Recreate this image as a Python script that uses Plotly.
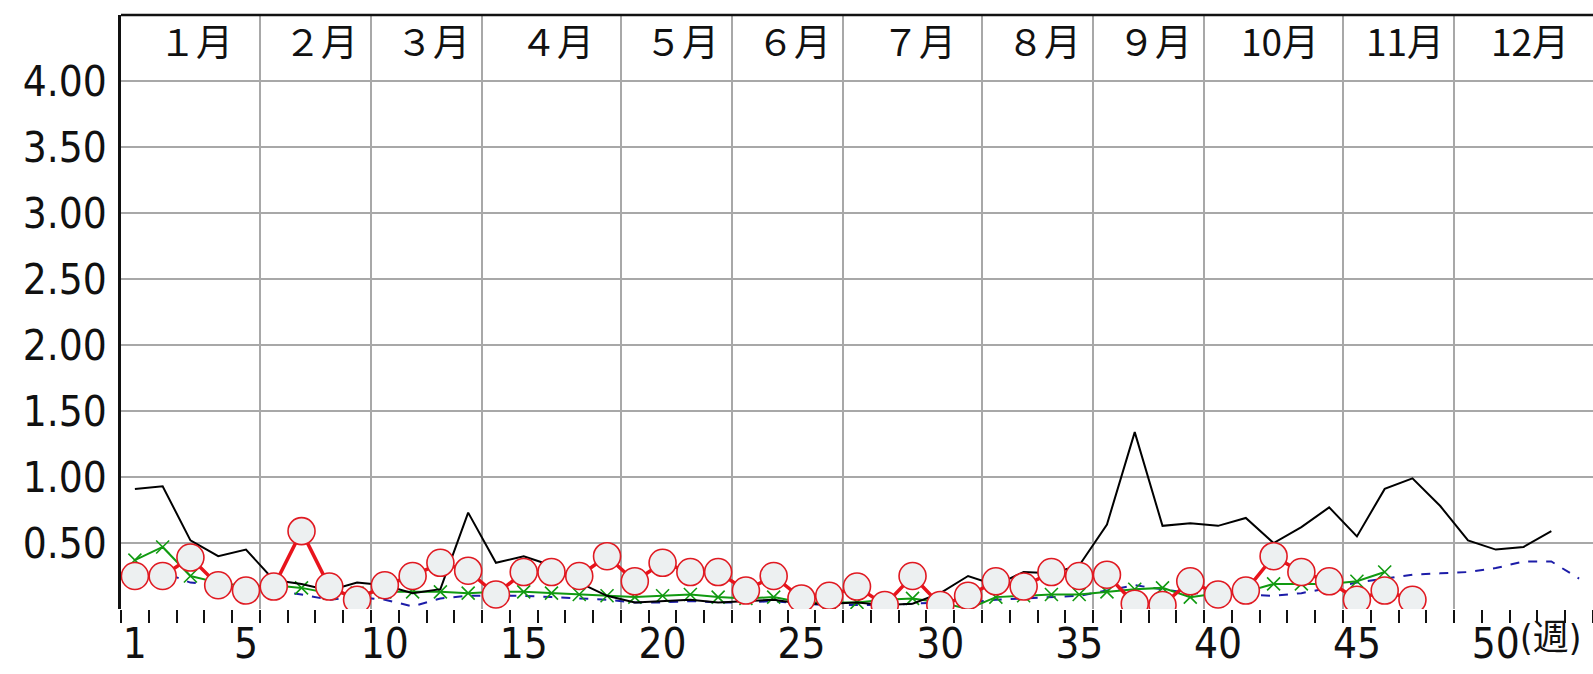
import plotly.graph_objects as go

# ---------------- data ----------------
weeks = list(range(1, 54))

months = ["１月", "２月", "３月", "４月", "５月", "６月", "７月", "８月", "９月", "10月", "11月", "12月"]
weeks_per_month = [5, 4, 4, 5, 4, 4, 5, 4, 4, 5, 4, 5]

x_tick_vals = [1, 5, 10, 15, 20, 25, 30, 35, 40, 45, 50]
x_tick_text = ["1", "5", "10", "15", "20", "25", "30", "35", "40", "45", "50"]
week_unit = "(週)"

y_tick_vals = [0.5, 1.0, 1.5, 2.0, 2.5, 3.0, 3.5, 4.0]
y_tick_text = ["0.50", "1.00", "1.50", "2.00", "2.50", "3.00", "3.50", "4.00"]

# current season (red circles), weeks 1-47
red_vals = [0.25, 0.25, 0.39, 0.18, 0.14, 0.17, 0.59, 0.17, 0.07,
            0.18, 0.25, 0.35, 0.29, 0.11, 0.28, 0.28, 0.25, 0.40,
            0.21, 0.35, 0.28, 0.28, 0.14, 0.25, 0.08, 0.10, 0.17,
            0.03, 0.25, 0.03, 0.10, 0.21, 0.17, 0.28, 0.25,
            0.26, 0.04, 0.03, 0.21, 0.11, 0.14, 0.40, 0.28, 0.21,
            0.07, 0.14, 0.07]

# black solid line, weeks 1-52
black_vals = [0.91, 0.93, 0.52, 0.40, 0.45, 0.22, 0.19, 0.14, 0.20,
              0.18, 0.12, 0.15, 0.73, 0.35, 0.40, 0.33, 0.20, 0.10,
              0.05, 0.06, 0.07, 0.05, 0.06, 0.07, 0.04, 0.04, 0.05,
              0.03, 0.04, 0.12, 0.25, 0.18, 0.28, 0.27, 0.33,
              0.64, 1.34, 0.63, 0.65, 0.63, 0.69, 0.50, 0.62, 0.77,
              0.55, 0.91, 0.99, 0.78, 0.52, 0.45, 0.47, 0.59]

# green line with x markers, weeks 1-46
green_vals = [0.37, 0.47, 0.25, 0.20, 0.17, 0.18, 0.16, 0.12, 0.12,
              0.13, 0.13, 0.13, 0.12, 0.13, 0.13, 0.12, 0.11, 0.10,
              0.09, 0.10, 0.11, 0.09, 0.08, 0.09, 0.05, 0.05, 0.05,
              0.07, 0.08, 0.05, 0.00, 0.09, 0.10, 0.11, 0.11,
              0.13, 0.15, 0.16, 0.09, 0.12, 0.13, 0.19, 0.19, 0.19,
              0.21, 0.28]

# blue dashed line, weeks 1-53
blue_vals = [0.30, 0.28, 0.20, 0.18, 0.15, 0.14, 0.11, 0.07, 0.09,
             0.07, 0.02, 0.08, 0.10, 0.10, 0.10, 0.09, 0.08, 0.07,
             0.05, 0.05, 0.06, 0.05, 0.05, 0.06, 0.04, 0.03, 0.03,
             0.03, 0.04, 0.05, 0.05, 0.07, 0.08, 0.09, 0.10,
             0.14, 0.18, 0.15, 0.12, 0.12, 0.11, 0.10, 0.12, 0.16,
             0.20, 0.23, 0.26, 0.27, 0.28, 0.31, 0.36, 0.36, 0.23]

# ---------------- derived positions ----------------
bounds = []
c = 0
for n in weeks_per_month:
    c += n
    bounds.append(c + 0.5)
month_lines = bounds[:-1]
starts = [0.5] + bounds[:-1]
month_centers = [(s + e) / 2 for s, e in zip(starts, bounds)]
x_min, x_max = 0.5, weeks[-1] + 0.5
minor_ticks = [w - 0.5 for w in weeks] + [x_max]

NARROW = "Liberation Sans Narrow, Arial Narrow, DejaVu Sans Condensed, Liberation Sans, sans-serif"
CJK = "Noto Sans CJK JP, sans-serif"

fig = go.Figure()

fig.add_trace(go.Scatter(x=weeks[:len(blue_vals)], y=blue_vals, mode="lines",
                         line=dict(color="#1c1ca8", width=2, dash="dash"),
                         showlegend=False, hoverinfo="skip"))
fig.add_trace(go.Scatter(x=weeks[:len(green_vals)], y=green_vals, mode="lines+markers",
                         line=dict(color="#119a11", width=2),
                         marker=dict(symbol="x-thin", size=13,
                                     line=dict(color="#119a11", width=1.6)),
                         showlegend=False, hoverinfo="skip"))
fig.add_trace(go.Scatter(x=weeks[:len(black_vals)], y=black_vals, mode="lines",
                         line=dict(color="#000000", width=2),
                         showlegend=False, hoverinfo="skip"))
fig.add_trace(go.Scatter(x=weeks[:len(red_vals)], y=red_vals, mode="lines+markers",
                         line=dict(color="#e8141c", width=3.5),
                         marker=dict(symbol="circle", size=27, color="#edf0f1",
                                     line=dict(color="#e01a22", width=1.6)),
                         showlegend=False, hoverinfo="skip"))

# invisible trace on the month-gridline axis so that it renders
fig.add_trace(go.Scatter(x=[x_min], y=[0], xaxis="x2", mode="markers",
                         marker=dict(opacity=0), showlegend=False, hoverinfo="skip"))

for name, cx in zip(months, month_centers):
    fig.add_annotation(x=cx, y=0.958, xref="x", yref="paper", text=name,
                       showarrow=False, xanchor="center", yanchor="middle",
                       xshift=6, font=dict(family=CJK, size=37, color="#111111"))

fig.add_annotation(x=x_tick_vals[-1] + 0.8, y=0, xref="x", yref="paper",
                   text=week_unit, showarrow=False, xanchor="left", yanchor="top",
                   yshift=-6, font=dict(family=NARROW + ", Noto Sans CJK JP", size=36, color="#111111"))

fig.add_shape(type="line", xref="paper", yref="paper", x0=0, x1=1, y0=1, y1=1,
              line=dict(color="#111111", width=2.5))

fig.update_layout(
    width=1593, height=674,
    margin=dict(l=121, r=0, t=15, b=65),
    paper_bgcolor="white", plot_bgcolor="white",
    xaxis=dict(range=[x_min, x_max], tickmode="array", tickvals=x_tick_vals,
               ticktext=x_tick_text, ticks="", showgrid=False, zeroline=False,
               showline=False, ticklabelstandoff=6, automargin=False,
               tickfont=dict(family=NARROW, size=42, color="#111111"),
               minor=dict(ticks="outside", tickmode="array", tickvals=minor_ticks,
                          ticklen=13, tickwidth=2, tickcolor="#111111", showgrid=False)),
    xaxis2=dict(range=[x_min, x_max], overlaying="x", anchor="y", side="bottom",
                tickmode="array", tickvals=month_lines, showticklabels=False,
                ticks="", showgrid=True, gridcolor="#a8a8a8", gridwidth=1.5,
                zeroline=False, showline=False, automargin=False),
    yaxis=dict(range=[0, 4.5], tickmode="array", tickvals=[0] + y_tick_vals,
               ticktext=[""] + y_tick_text, ticks="", showgrid=True,
               gridcolor="#a8a8a8", gridwidth=1.5, zeroline=False,
               showline=True, linecolor="#111111", linewidth=2.5,
               ticklabelstandoff=3, automargin=False,
               tickfont=dict(family=NARROW, size=42, color="#111111")),
)

fig.write_html("out.html", config={"displayModeBar": False},
               post_script="document.body.style.margin='0';document.body.style.overflow='hidden';")
